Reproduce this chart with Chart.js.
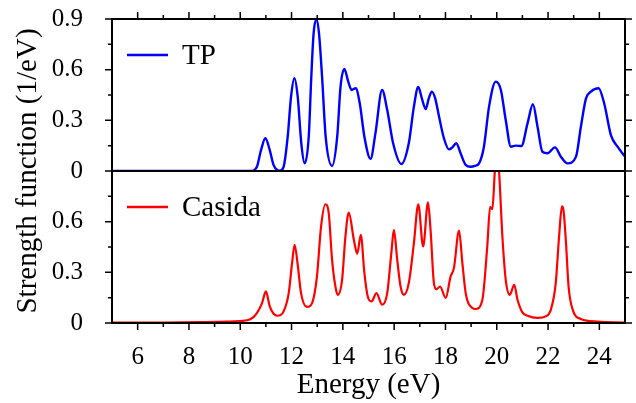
<!DOCTYPE html>
<html><head><meta charset="utf-8">
<script src="https://cdn.jsdelivr.net/npm/chart.js@4"></script>
<style>html,body{margin:0;padding:0;background:#fff}#wrap{width:636px;height:403px}</style>
</head><body><div id="wrap"><canvas id="c" width="636" height="403"></canvas></div>
<script>
const xMajorTicks = [6, 8, 10, 12, 14, 16, 18, 20, 22, 24];
const xMinorTicks = [7, 9, 11, 13, 15, 17, 19, 21, 23];
const yTopTicks = [0, 0.3, 0.6, 0.9];
const yBotTicks = [0, 0.3, 0.6];
const yMajorTicks = [0, 0.3, 0.6, 0.9];
const yMinorTicks = [0.15, 0.45, 0.75];
const xTitle = 'Energy (eV)';
const yTitle = 'Strength function (1/eV)';
const tpLabel = 'TP';
const casidaLabel = 'Casida';

const tpEnergy = [5, 10.4, 10.52, 10.65, 10.81, 10.98, 11.15, 11.30, 11.54, 11.69, 11.85, 11.98, 12.11, 12.24, 12.38, 12.51, 12.67, 12.77, 12.86, 12.97, 13.07, 13.19, 13.33, 13.58, 13.78, 13.91, 14.06, 14.21, 14.34, 14.5, 14.66, 14.84, 15.08, 15.27, 15.53, 15.73, 15.96, 16.28, 16.57, 16.77, 16.94, 17.08, 17.23, 17.35, 17.47, 17.6, 17.75, 17.94, 18.14, 18.27, 18.42, 18.59, 18.79, 18.98, 19.15, 19.31, 19.5, 19.7, 19.96, 20.16, 20.35, 20.55, 20.74, 20.96, 21.2, 21.41, 21.59, 21.78, 21.98, 22.27, 22.5, 22.76, 23.09, 23.28, 23.48, 23.67, 23.97, 24.19, 24.45, 24.71, 25.0];
const tpStrength = [0, 0, 0.003, 0.025, 0.124, 0.194, 0.124, 0.036, 0.002, 0.025, 0.203, 0.44, 0.549, 0.44, 0.164, 0.045, 0.203, 0.558, 0.815, 0.898, 0.815, 0.558, 0.203, 0.03, 0.203, 0.5, 0.604, 0.529, 0.48, 0.49, 0.40, 0.203, 0.072, 0.223, 0.48, 0.361, 0.164, 0.041, 0.164, 0.381, 0.497, 0.43, 0.367, 0.43, 0.47, 0.43, 0.322, 0.194, 0.128, 0.14, 0.164, 0.105, 0.036, 0.025, 0.03, 0.045, 0.144, 0.381, 0.529, 0.48, 0.302, 0.144, 0.15, 0.148, 0.282, 0.395, 0.262, 0.114, 0.105, 0.14, 0.085, 0.045, 0.085, 0.262, 0.43, 0.47, 0.49, 0.40, 0.213, 0.144, 0.085];

const casidaEnergy = [5, 7, 8.5, 9.5, 10, 10.39, 10.65, 10.85, 11.0, 11.15, 11.3, 11.46, 11.69, 11.89, 12.02, 12.12, 12.24, 12.37, 12.6, 12.8, 12.99, 13.15, 13.32, 13.45, 13.58, 13.71, 13.8, 13.97, 14.1, 14.23, 14.43, 14.56, 14.7, 14.84, 14.97, 15.12, 15.31, 15.53, 15.73, 15.89, 15.99, 16.12, 16.25, 16.38, 16.57, 16.77, 16.94, 17.13, 17.32, 17.42, 17.55, 17.65, 17.79, 18.01, 18.2, 18.33, 18.53, 18.66, 18.79, 19.05, 19.18, 19.44, 19.63, 19.74, 19.83, 19.92, 20.0, 20.09, 20.22, 20.35, 20.51, 20.68, 20.81, 21.0, 21.2, 21.59, 21.91, 22.11, 22.3, 22.43, 22.54, 22.6, 22.7, 22.8, 22.96, 23.28, 23.93, 25];
const casidaStrength = [0.002, 0.003, 0.005, 0.008, 0.012, 0.022, 0.059, 0.118, 0.187, 0.098, 0.055, 0.043, 0.069, 0.177, 0.355, 0.463, 0.345, 0.177, 0.095, 0.118, 0.275, 0.571, 0.703, 0.65, 0.374, 0.216, 0.167, 0.256, 0.512, 0.654, 0.492, 0.41, 0.522, 0.295, 0.157, 0.128, 0.177, 0.108, 0.177, 0.414, 0.551, 0.374, 0.216, 0.167, 0.236, 0.473, 0.703, 0.453, 0.715, 0.55, 0.236, 0.2, 0.216, 0.148, 0.275, 0.325, 0.547, 0.355, 0.177, 0.089, 0.083, 0.138, 0.453, 0.686, 0.674, 0.886, 1.05, 0.9, 0.512, 0.256, 0.167, 0.226, 0.138, 0.063, 0.043, 0.03, 0.039, 0.079, 0.236, 0.512, 0.69, 0.67, 0.473, 0.216, 0.079, 0.024, 0.008, 0.003];

const FONT = "'Liberation Serif', 'Times New Roman', serif";
const toPts = (xs, ys) => xs.map((x, i) => ({x: x, y: ys[i]}));

const framePlugin = {
  id: 'frame',
  afterDatasetsDraw(chart) {
    const ctx = chart.ctx;
    const a = chart.chartArea;
    const xs = chart.scales.x, yt = chart.scales.yTop, yb = chart.scales.yBot;
    ctx.save();
    ctx.strokeStyle = '#000';
    ctx.lineWidth = 2;
    ctx.strokeRect(a.left, a.top, a.right - a.left, a.bottom - a.top);
    ctx.beginPath();
    ctx.moveTo(a.left, yt.bottom); ctx.lineTo(a.right, yt.bottom);
    ctx.stroke();
    ctx.lineWidth = 1.5;
    ctx.beginPath();
    const xt = (v, len) => {
      const p = xs.getPixelForValue(v);
      ctx.moveTo(p, a.bottom); ctx.lineTo(p, a.bottom + len);
      ctx.moveTo(p, a.top); ctx.lineTo(p, a.top - len);
    };
    xMajorTicks.forEach(v => xt(v, 7));
    xMinorTicks.forEach(v => xt(v, 4));
    const ytk = (s, v, len) => {
      const p = s.getPixelForValue(v);
      ctx.moveTo(a.left, p); ctx.lineTo(a.left - len, p);
      ctx.moveTo(a.right, p); ctx.lineTo(a.right + len, p);
    };
    [yt, yb].forEach(s => {
      yMajorTicks.forEach(v => ytk(s, v, 7));
      yMinorTicks.forEach(v => ytk(s, v, 4));
    });
    ctx.stroke();
    ctx.fillStyle = '#000';
    ctx.font = '29px ' + FONT;
    ctx.textAlign = 'center';
    ctx.textBaseline = 'middle';
    ctx.save();
    ctx.translate(28, (a.top + a.bottom) / 2);
    ctx.rotate(-Math.PI / 2);
    ctx.fillText(yTitle, 0, 0);
    ctx.restore();
    ctx.font = '29px ' + FONT;
    ctx.textAlign = 'left';
    chart.data.datasets.forEach(ds => {
      const s = chart.scales[ds.yAxisID];
      const ly = s.top + 36;
      ctx.strokeStyle = ds.borderColor;
      ctx.lineWidth = 2.3;
      ctx.beginPath();
      ctx.moveTo(a.left + 15, ly); ctx.lineTo(a.left + 56, ly);
      ctx.stroke();
      ctx.fillText(ds.label, a.left + 70, ly + 1);
    });
    ctx.restore();
  }
};

const yAxis = (ticksArr) => ({
  type: 'linear', position: 'left', stack: 'panels', stackWeight: 1,
  min: 0, max: 0.9,
  afterBuildTicks: s => { s.ticks = ticksArr.map(v => ({value: v})); },
  afterFit: s => { s.width = 112; s.paddingTop = 0; s.paddingBottom = 0; },
  grid: {display: false},
  border: {display: false},
  ticks: {font: {family: FONT, size: 25}, color: '#000', padding: 21, autoSkip: false,
          callback: v => String(v)}
});

new Chart(document.getElementById('c'), {
  type: 'line',
  data: {
    datasets: [
      {label: tpLabel, data: toPts(tpEnergy, tpStrength), yAxisID: 'yTop', xAxisID: 'x',
       borderColor: '#0000ff', borderWidth: 2.4, pointRadius: 0, fill: false,
       cubicInterpolationMode: 'monotone'},
      {label: casidaLabel, data: toPts(casidaEnergy, casidaStrength), yAxisID: 'yBot', xAxisID: 'x',
       borderColor: '#ff0000', borderWidth: 2.2, pointRadius: 0, fill: false,
       cubicInterpolationMode: 'monotone'}
    ]
  },
  options: {
    responsive: false, animation: false, devicePixelRatio: 1,
    layout: {padding: {top: 19, right: 11, left: 0, bottom: 0}},
    plugins: {legend: {display: false}, tooltip: {enabled: false}},
    scales: {
      x: {type: 'linear', position: 'bottom', min: 5, max: 25,
          afterBuildTicks: s => { s.ticks = xMajorTicks.map(v => ({value: v})); },
          afterFit: s => { s.height = 80; s.paddingLeft = 0; s.paddingRight = 0; },
          grid: {display: false}, border: {display: false},
          ticks: {font: {family: FONT, size: 25}, color: '#000', padding: 11, maxRotation: 0, autoSkip: false},
          title: {display: true, text: xTitle, font: {family: FONT, size: 29}, color: '#000', padding: {top: 0, bottom: 0}}},
      yBot: yAxis(yBotTicks),
      yTop: yAxis(yTopTicks)
    }
  },
  plugins: [framePlugin]
});
</script>
</body></html>
